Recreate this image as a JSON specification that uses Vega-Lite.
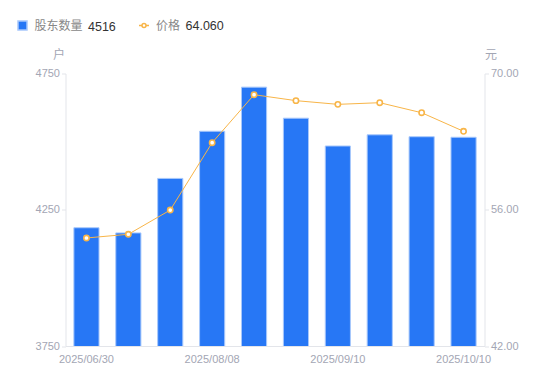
{
  "$schema": "https://vega.github.io/schema/vega-lite/v6.json",
  "autosize": {"type": "none"},
  "padding": {"left": 65.5, "top": 73.5, "right": 65.5, "bottom": 35},
  "width": 419,
  "height": 272.5,
  "background": "white",
  "config": {
    "view": {"stroke": null},
    "font": "Liberation Sans",
    "axis": {"labelFont": "Liberation Sans", "labelFontSize": 11, "labelColor": "#a3a6b4", "domainColor": "#e3e5ea", "tickColor": "#e3e5ea", "grid": false, "titleFont": "Noto Sans CJK SC", "titleFontWeight": "normal", "titleColor": "#a3a6b4", "titleFontSize": 12},
    "legend": {"labelFont": "Noto Sans CJK SC", "labelFontSize": 12, "labelColor": "#888888", "padding": 0, "titleOrient": "right", "titleFont": "Liberation Sans", "titleFontSize": 12.5, "titleFontWeight": "normal", "titleColor": "#333333", "titlePadding": 5.5, "titleBaseline": "middle"}
  },
  "data": {
    "values": [
      {"date": "2025/06/30", "holders": 4184, "price": 53.10, "s1": "股东数量", "s2": "价格"},
      {"date": "2025/07/10", "holders": 4165, "price": 53.48, "s1": "股东数量", "s2": "价格"},
      {"date": "2025/07/20", "holders": 4365, "price": 55.97, "s1": "股东数量", "s2": "价格"},
      {"date": "2025/08/08", "holders": 4538, "price": 62.89, "s1": "股东数量", "s2": "价格"},
      {"date": "2025/08/20", "holders": 4700, "price": 67.82, "s1": "股东数量", "s2": "价格"},
      {"date": "2025/08/29", "holders": 4586, "price": 67.21, "s1": "股东数量", "s2": "价格"},
      {"date": "2025/09/10", "holders": 4484, "price": 66.83, "s1": "股东数量", "s2": "价格"},
      {"date": "2025/09/19", "holders": 4525, "price": 67.00, "s1": "股东数量", "s2": "价格"},
      {"date": "2025/09/30", "holders": 4518, "price": 65.97, "s1": "股东数量", "s2": "价格"},
      {"date": "2025/10/10", "holders": 4516, "price": 64.06, "s1": "股东数量", "s2": "价格"}
    ]
  },
  "encoding": {
    "x": {
      "field": "date", "type": "ordinal", "sort": null,
      "scale": {"paddingInner": 0.4, "paddingOuter": 0.2},
      "axis": {"title": null, "ticks": false, "labelAngle": 0, "labelPadding": 7, "values": ["2025/06/30", "2025/08/08", "2025/09/10", "2025/10/10"]}
    }
  },
  "layer": [
    {
      "mark": {"type": "bar", "stroke": "#a8c8fb", "strokeWidth": 1, "clip": true},
      "encoding": {
        "y": {
          "field": "holders", "type": "quantitative",
          "scale": {"domain": [3750, 4750], "zero": false, "nice": false},
          "axis": {"values": [3750, 4250, 4750], "format": "d", "tickSize": 4, "labelPadding": 2, "title": "户", "titleAngle": 0, "titleX": -7, "titleY": -12, "titleAlign": "center", "titleBaseline": "bottom"}
        },
        "color": {
          "field": "s1", "type": "nominal",
          "scale": {"range": ["#2777f5"]},
          "legend": {"orient": "none", "legendX": -49, "legendY": -54, "title": "4516", "symbolType": "square", "symbolSize": 81, "labelOffset": 6}
        }
      }
    },
    {
      "mark": {"type": "line", "strokeWidth": 1},
      "encoding": {
        "y": {
          "field": "price", "type": "quantitative",
          "scale": {"domain": [42, 70], "zero": false, "nice": false},
          "axis": {"orient": "right", "values": [42, 56, 70], "format": ".2f", "tickSize": 4, "labelPadding": 2, "title": "元", "titleAngle": 0, "titleX": 6, "titleY": -12, "titleAlign": "center", "titleBaseline": "bottom"}
        },
        "stroke": {
          "field": "s2", "type": "nominal",
          "scale": {"range": ["#f8b548"]},
          "legend": {"orient": "none", "legendX": 72.5, "legendY": -54, "title": "64.060", "symbolType": "M-1,0H-0.4M0.4,0H1M-0.4,0A0.4,0.4 0 1,1 0.4,0A0.4,0.4 0 1,1 -0.4,0", "symbolSize": 100, "symbolStrokeWidth": 1.5, "symbolFillColor": "white", "labelOffset": 6}
        }
      }
    },
    {
      "mark": {"type": "point", "filled": true, "fill": "white", "stroke": "#f8b548", "strokeWidth": 1.6, "size": 28, "opacity": 1},
      "encoding": {
        "y": {"field": "price", "type": "quantitative", "scale": {"domain": [42, 70], "zero": false, "nice": false}, "axis": null}
      }
    }
  ],
  "resolve": {"scale": {"y": "independent", "color": "independent", "stroke": "independent"}}
}
